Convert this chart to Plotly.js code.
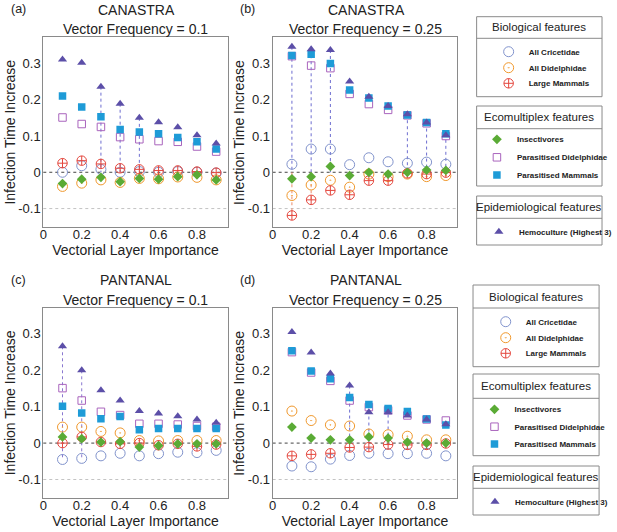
<!DOCTYPE html>
<html>
<head>
<meta charset="utf-8">
<script src="https://cdn.plot.ly/plotly-3.0.1.min.js"></script>
<style>html,body{margin:0;padding:0;background:#fff}#chart{width:617px;height:532px}</style>
</head>
<body>
<div id="chart"></div>
<script>
// ---------- data ----------
const xVals = [0.1, 0.2, 0.3, 0.4, 0.5, 0.6, 0.7, 0.8, 0.9];
const xTickVals = [0, 0.2, 0.4, 0.6, 0.8];
const xTickText = ['0', '0.2', '0.4', '0.6', '0.8'];
const yTickVals = [-0.1, 0, 0.1, 0.2, 0.3];
const yTickText = ['-0.1', '0', '0.1', '0.2', '0.3'];
const xTitle = 'Vectorial Layer Importance';
const yTitle = 'Infection Time Increase';

const seriesNames = ['All Cricetidae', 'All Didelphidae', 'Large Mammals', 'Insectivores',
  'Parasitised Didelphidae', 'Parasitised Mammals', 'Hemoculture (Highest 3)'];
const groupTitles = ['Biological features', 'Ecomultiplex features', 'Epidemiological features'];

const panelLetters = ['(a)', '(b)', '(c)', '(d)'];
const panelSites = ['CANASTRA', 'CANASTRA', 'PANTANAL', 'PANTANAL'];
const panelFreqs = ['Vector Frequency = 0.1', 'Vector Frequency = 0.25', 'Vector Frequency = 0.1', 'Vector Frequency = 0.25'];

// (a) Canastra, vector frequency 0.1
const cric_a   = [0.000, 0.018, 0.008, 0.000, 0.002, 0.000, 0.002, 0.000, -0.002];
const didel_a  = [-0.039, -0.030, -0.021, -0.028, -0.017, -0.018, -0.013, -0.014, -0.021];
const large_a  = [0.025, 0.032, 0.023, 0.011, 0.008, 0.005, 0.005, 0.002, -0.001];
const insect_a = [-0.031, -0.019, -0.014, -0.026, -0.017, -0.019, -0.012, -0.007, -0.021];
const parDid_a = [0.151, 0.133, 0.125, 0.097, 0.091, 0.086, 0.084, 0.071, 0.057];
const parMam_a = [0.210, 0.180, 0.153, 0.118, 0.111, 0.106, 0.096, 0.084, 0.064];
const hemo_a   = [0.311, 0.302, 0.236, 0.189, 0.150, 0.138, 0.124, 0.102, 0.079];

// (b) Canastra, vector frequency 0.25
const cric_b   = [0.022, 0.064, 0.064, 0.021, 0.040, 0.029, 0.025, 0.028, 0.022];
const didel_b  = [-0.064, -0.035, -0.022, -0.041, -0.005, -0.012, -0.005, -0.012, -0.009];
const large_b  = [-0.119, -0.076, -0.050, -0.062, -0.023, -0.023, -0.003, -0.005, -0.001];
const insect_b = [-0.018, -0.012, 0.016, -0.009, 0.000, -0.005, 0.000, 0.006, 0.005];
const parDid_b = [0.320, 0.294, 0.287, 0.216, 0.188, 0.172, 0.157, 0.135, 0.100];
const parMam_b = [0.322, 0.325, 0.300, 0.227, 0.205, 0.183, 0.158, 0.137, 0.106];
const hemo_b   = [0.346, 0.339, 0.337, 0.250, 0.208, 0.183, 0.160, 0.137, 0.102];

// (c) Pantanal, vector frequency 0.1
const cric_c   = [-0.045, -0.042, -0.035, -0.028, -0.035, -0.029, -0.025, -0.026, -0.020];
const didel_c  = [0.044, 0.044, 0.032, 0.028, 0.007, 0.006, 0.007, 0.007, 0.007];
const large_c  = [0.000, 0.017, 0.003, -0.002, 0.000, -0.006, -0.002, -0.009, -0.004];
const insect_c = [0.017, 0.012, 0.003, 0.004, -0.011, -0.007, -0.002, -0.002, -0.002];
const parDid_c = [0.151, 0.117, 0.086, 0.077, 0.053, 0.053, 0.051, 0.047, 0.045];
const parMam_c = [0.101, 0.083, 0.067, 0.073, 0.037, 0.040, 0.040, 0.040, 0.040];
const hemo_c   = [0.266, 0.200, 0.145, 0.117, 0.088, 0.081, 0.074, 0.065, 0.056];

// (d) Pantanal, vector frequency 0.25
const cric_d   = [-0.063, -0.065, -0.044, -0.034, -0.028, -0.029, -0.029, -0.028, -0.035];
const didel_d  = [0.088, 0.062, 0.050, 0.047, 0.025, 0.023, 0.019, 0.009, 0.009];
const large_d  = [-0.035, -0.031, -0.028, -0.012, -0.011, -0.004, -0.005, -0.005, -0.001];
const insect_d = [0.044, 0.014, 0.009, 0.009, 0.017, 0.014, 0.003, 0.000, 0.000];
const parDid_d = [0.250, 0.194, 0.171, 0.117, 0.099, 0.090, 0.076, 0.065, 0.062];
const parMam_d = [0.254, 0.198, 0.177, 0.125, 0.106, 0.095, 0.087, 0.066, 0.050];
const hemo_d   = [0.305, 0.249, 0.191, 0.158, 0.085, 0.085, 0.076, 0.065, 0.052];

// columns with a visible dotted drop line (indices into xVals)
const upStems_a = [2, 3, 4];
const upStems_b = [0, 1, 2, 6, 7, 8];
const downStems_b = [0, 1];
const fullStems_c = [0, 1];
const upStems_d = [3, 4, 5];

// ---------- styles ----------
const markerStyles = [
  {symbol: 'circle-open', size: 10, color: '#8193cc', line: {width: 1, color: '#8193cc'}},
  {symbol: 'circle-open-dot', size: 10, color: '#f0982c', line: {width: 1, color: '#f0982c'}},
  {symbol: 'circle-cross-open', size: 9.5, color: '#e4473e', line: {width: 1, color: '#e4473e'}},
  {symbol: 'diamond', size: 7.5, color: '#5aab35', line: {width: 0}},
  {symbol: 'square-open', size: 7.5, color: '#a964bd', line: {width: 1, color: '#a964bd'}},
  {symbol: 'square', size: 7.5, color: '#1e9bd7', line: {width: 0}},
  {symbol: 'triangle-up', size: 8, color: '#5c4fa8', line: {width: 0}}
];

const panels = [
  {series: [cric_a, didel_a, large_a, insect_a, parDid_a, parMam_a, hemo_a], up: upStems_a, down: [], full: []},
  {series: [cric_b, didel_b, large_b, insect_b, parDid_b, parMam_b, hemo_b], up: upStems_b, down: downStems_b, full: []},
  {series: [cric_c, didel_c, large_c, insect_c, parDid_c, parMam_c, hemo_c], up: [], down: [], full: fullStems_c},
  {series: [cric_d, didel_d, large_d, insect_d, parDid_d, parMam_d, hemo_d], up: upStems_d, down: [], full: []}
];

// ---------- geometry (pixels) ----------
const W = 617, H = 532;
const colX = [[44.3, 233], [279, 468]];
const rowY = [[37.3, 226.7], [307.7, 497.7]];
const px = v => v / W;
const py = v => 1 - v / H;

// legend boxes: [top, header separator, bottom] and per-entry [marker x, text x, row y]
const boxSets = [
  {x0: 487.7, x1: 616, boxes: [[16.7, 38.3, 96.7], [106, 128.7, 186], [196, 218.3, 245]],
   entries: [[513, 524, 51.7], [513, 524, 67.7], [513, 524, 83.3], [501, 512, 139.3], [501, 512, 157.3], [501, 512, 175], [503, 514, 231.7]]},
  {x0: 484, x1: 613, boxes: [[285, 308, 366.7], [374, 398.3, 455.7], [466, 488.3, 515]],
   entries: [[510, 521, 321.7], [510, 521, 337.7], [510, 521, 353.3], [500, 508, 409.3], [500, 508, 426.7], [500, 508, 444], [499, 510, 501.7]]}
];

const traces = [];
const layout = {
  width: W, height: H,
  margin: {l: 0, r: 0, t: 0, b: 0},
  paper_bgcolor: '#fff', plot_bgcolor: '#fff',
  font: {family: 'Arial, Liberation Sans, sans-serif', color: '#222'},
  showlegend: true,
  shapes: [], annotations: []
};

function stemTrace(xs, ys0, ys1, axn, color) {
  const x = [], y = [];
  for (let k = 0; k < xs.length; k++) { x.push(xs[k], xs[k], null); y.push(ys0[k], ys1[k], null); }
  return {type: 'scatter', mode: 'lines', x, y, xaxis: 'x' + axn, yaxis: 'y' + axn,
    line: {color, width: 1, dash: 'dot'}, showlegend: false, hoverinfo: 'skip'};
}

panels.forEach((p, i) => {
  const r = Math.floor(i / 2), c = i % 2;
  const axn = i === 0 ? '' : String(i + 1);
  const xa = 'xaxis' + axn, ya = 'yaxis' + axn;
  layout[xa] = {
    domain: [px(colX[c][0]), px(colX[c][1])], anchor: 'y' + axn,
    range: [0, 0.96], tickvals: xTickVals, ticktext: xTickText,
    showgrid: false, zeroline: false, showline: true, mirror: true,
    linecolor: '#8a8a8a', linewidth: 1, ticks: '', ticklabelstandoff: -4,
    tickfont: {size: 13, color: '#222'},
    title: {text: xTitle, font: {size: 14, color: '#222'}, standoff: 3}
  };
  layout[ya] = {
    domain: [py(rowY[r][1]), py(rowY[r][0])], anchor: 'x' + axn,
    range: [-0.15, 0.372], tickvals: yTickVals, ticktext: yTickText,
    showgrid: false, zeroline: false, showline: true, mirror: true,
    linecolor: '#8a8a8a', linewidth: 1, ticks: '', ticklabelstandoff: -1,
    tickfont: {size: 13, color: '#222'}
  };
  // y-axis title as rotated text, placed close to the tick labels like the reference
  layout.annotations.push({text: yTitle, xref: 'paper', yref: 'paper', x: px(colX[c][0] - 34.5), y: py((rowY[r][0] + rowY[r][1]) / 2),
    xanchor: 'center', yanchor: 'middle', textangle: -90, showarrow: false, font: {size: 14, color: '#222'}});

  // reference lines
  layout.shapes.push({type: 'line', xref: 'x' + axn + ' domain', yref: 'y' + axn, x0: 0, x1: 1, y0: -0.1, y1: -0.1,
    line: {color: '#c4c4c4', width: 1, dash: 'dot'}, layer: 'below'});
  layout.shapes.push({type: 'line', xref: 'x' + axn + ' domain', yref: 'y' + axn, x0: 0, x1: 1, y0: 0, y1: 0,
    line: {color: '#444', width: 1, dash: 'dot'}, layer: 'below'});

  // drop lines derived from data
  const colMax = xVals.map((_, k) => Math.max(...p.series.map(s => s[k])));
  const colMin = xVals.map((_, k) => Math.min(...p.series.map(s => s[k])));
  if (p.up.length) traces.push(stemTrace(p.up.map(k => xVals[k]), p.up.map(k => colMax[k]), p.up.map(() => 0), axn, '#6d6dd0'));
  if (p.down.length) traces.push(stemTrace(p.down.map(k => xVals[k]), p.down.map(() => 0), p.down.map(k => colMin[k]), axn, '#ec8a6a'));
  if (p.full.length) traces.push(stemTrace(p.full.map(k => xVals[k]), p.full.map(k => colMax[k]), p.full.map(k => colMin[k]), axn, '#8a78d0'));

  // markers; the left-column panels feed the legend entries (one legend per entry)
  p.series.forEach((vals, s) => {
    const legendIdx = r * 7 + s;
    traces.push({
      type: 'scatter', mode: 'markers', name: seriesNames[s],
      x: xVals, y: vals, xaxis: 'x' + axn, yaxis: 'y' + axn,
      marker: markerStyles[s],
      legend: legendIdx === 0 ? 'legend' : 'legend' + (legendIdx + 1),
      showlegend: c === 0
    });
  });

  // panel titles
  const cx = (colX[c][0] + colX[c][1]) / 2;
  const top = r === 0 ? 0 : 270.5;
  layout.annotations.push({text: panelLetters[i], xref: 'paper', yref: 'paper', x: px(cx - 120), y: py(top + 9),
    xanchor: 'center', yanchor: 'middle', showarrow: false, font: {size: 12.5, color: '#222'}});
  layout.annotations.push({text: panelSites[i], xref: 'paper', yref: 'paper', x: px(cx + 1), y: py(top + 9.5),
    xanchor: 'center', yanchor: 'middle', showarrow: false, font: {size: 14, color: '#222'}});
  layout.annotations.push({text: panelFreqs[i], xref: 'paper', yref: 'paper', x: px(cx), y: py(top + 29.3),
    xanchor: 'center', yanchor: 'middle', showarrow: false, font: {size: 14, color: '#222'}});
});

// ---------- legend boxes ----------
boxSets.forEach((set, si) => {
  set.boxes.forEach((b, bi) => {
    layout.shapes.push({type: 'rect', xref: 'paper', yref: 'paper', x0: px(set.x0), x1: px(set.x1), y0: py(b[0]), y1: py(b[2]),
      line: {color: '#8a8a8a', width: 1}, fillcolor: 'rgba(0,0,0,0)'});
    layout.shapes.push({type: 'line', xref: 'paper', yref: 'paper', x0: px(set.x0), x1: px(set.x1), y0: py(b[1]), y1: py(b[1]),
      line: {color: '#8a8a8a', width: 1}});
    layout.annotations.push({text: groupTitles[bi], xref: 'paper', yref: 'paper', x: px((set.x0 + set.x1) / 2), y: py((b[0] + b[1]) / 2),
      xanchor: 'center', yanchor: 'middle', showarrow: false, font: {size: 11.5, color: '#222'}});
  });
  set.entries.forEach((e, ei) => {
    const n = si * 7 + ei;
    const key = n === 0 ? 'legend' : 'legend' + (n + 1);
    layout[key] = {
      x: px((e[0] + e[1]) / 2 - 18.5), y: py(e[2]), xanchor: 'left', yanchor: 'middle',
      bgcolor: 'rgba(0,0,0,0)', borderwidth: 0,
      font: {size: 8, color: '#222', weight: 'bold'}
    };
  });
});

Plotly.newPlot('chart', traces, layout, {displayModeBar: false, staticPlot: true});
</script>
</body>
</html>
